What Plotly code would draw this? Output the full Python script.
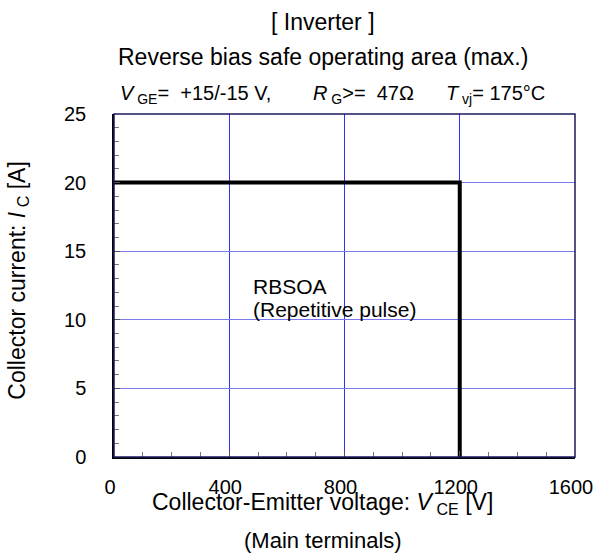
import plotly.graph_objects as go

# Data: RBSOA boundary (max.)
vce = [0, 1200, 1200]      # V
ic = [20, 20, 0]           # A

x_ticks = [0, 400, 800, 1200, 1600]
y_ticks = [0, 5, 10, 15, 20, 25]

FONT = "Arial, Liberation Sans, sans-serif"

fig = go.Figure()
fig.add_trace(go.Scatter(x=vce, y=ic, mode="lines",
                         line=dict(color="black", width=4),
                         showlegend=False, hoverinfo="skip"))

fig.update_layout(
    width=595, height=553,
    margin=dict(l=114, r=20, t=114, b=96, autoexpand=False),
    paper_bgcolor="white", plot_bgcolor="white",
    font=dict(family=FONT, size=20, color="black"),
    showlegend=False,
)

fig.update_xaxes(range=[0, 1600], tickvals=x_ticks, ticktext=[str(v) for v in x_ticks],
                 showgrid=True, gridcolor="#3030ff", gridwidth=1,
                 zeroline=False, showline=True, linecolor="black", linewidth=1.5,
                 ticks="inside", ticklen=6, tickcolor="#555",
                 minor=dict(dtick=100, ticks="inside", ticklen=5, tickcolor="#777", showgrid=False),
                 tickfont=dict(size=20), ticklabelstandoff=11,
                 ticklabelshift=-4, ticklabeloverflow="allow", automargin=False)
fig.update_yaxes(range=[0, 25], tickvals=y_ticks,
                 showgrid=True, gridcolor="#7a7aee", gridwidth=1,
                 zeroline=False, showline=True, linecolor="black", linewidth=1.5,
                 ticks="inside", ticklen=6, tickcolor="#555",
                 minor=dict(dtick=1, ticks="inside", ticklen=5, tickcolor="#777", showgrid=False),
                 tickfont=dict(size=20), ticklabelstandoff=22, ticklabeloverflow="allow",
                 automargin=False)

# frame (top/right navy)
fig.add_shape(type="rect", xref="paper", yref="paper", x0=0, y0=0, x1=1, y1=1,
              line=dict(color="#1a1a60", width=1.5), layer="above")

def ann(text, x, y, size=23, xanchor="center", yanchor="middle", xref="paper", yref="paper", angle=0):
    fig.add_annotation(text=text, x=x, y=y, xref=xref, yref=yref, showarrow=False,
                       xanchor=xanchor, yanchor=yanchor, textangle=angle,
                       font=dict(family=FONT, size=size, color="black"), align="left")

ann("[ Inverter ]", 0.453, 1.268)
ann("Reverse bias safe operating area (max.)", 0.453, 1.166)
ann("<i>V</i><sub> GE</sub>=  +15/-15 V,", 0.008, 1.056, size=20, xanchor="left")
ann("<i>R</i><sub> G</sub>>=  47Ω", 0.427, 1.056, size=20, xanchor="left")
ann("<i>T</i><sub> vj</sub>= 175°C", 0.716, 1.056, size=20, xanchor="left")
ann("Collector-Emitter voltage: <i>V</i><sub> CE</sub> [V]", 0.453, -0.136)
ann("(Main terminals)", 0.453, -0.242, size=22)
ann("Collector current: <i>I</i><sub> C</sub> [A]", -0.209, 0.516, angle=-90)
ann("RBSOA", 477, 12.45, size=21, xanchor="left", xref="x", yref="y")
ann("(Repetitive pulse)", 477, 10.72, size=21, xanchor="left", xref="x", yref="y")

fig.write_html("out.html", config={"displayModeBar": False})

# remove default browser body margin so the figure fills the window exactly
with open("out.html", "r", encoding="utf-8") as f:
    html = f.read()
html = html.replace("<head>", "<head><style>html,body{margin:0;padding:0;overflow:hidden;}</style>", 1)
with open("out.html", "w", encoding="utf-8") as f:
    f.write(html)
